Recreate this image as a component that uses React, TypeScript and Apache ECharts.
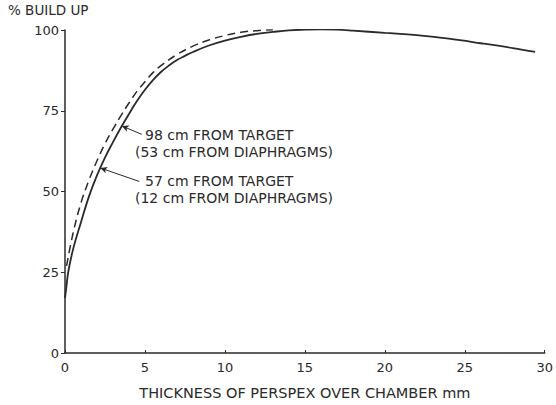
import React, { useEffect, useRef } from "react";
import * as echarts from "echarts";

// Thickness of perspex (mm) and % build up
const solidX = [0, 0.1, 0.2, 0.5, 1, 1.5, 2, 2.5, 3, 3.5, 4, 4.5, 5, 5.5, 6, 6.5, 7, 7.5, 8, 9, 10, 11, 12, 13, 14, 15, 16, 17, 18, 20, 22, 24, 26, 28, 29.4];
const solidY = [17, 21, 25, 32, 40.5, 48.5, 55, 60.5, 65.3, 69.8, 74, 78, 81.5, 84.5, 87, 89, 90.7, 92, 93.2, 95.2, 96.7, 97.9, 98.8, 99.4, 99.9, 100.1, 100.2, 100.1, 99.8, 99.1, 98.4, 97.3, 95.9, 94.4, 93.2];

const dashX = [0.1, 0.5, 1, 1.5, 2, 2.5, 3, 3.5, 4, 4.5, 5, 5.5, 6, 7, 8, 9, 10, 11, 12, 13];
const dashY = [27, 37, 46.5, 53.5, 59.5, 64.8, 69.3, 73.5, 77.4, 81, 84, 86.8, 89, 92.4, 95, 96.9, 98.3, 99.3, 99.8, 100.1];

const xTicks = [0, 5, 10, 15, 20, 25, 30];
const yTicks = [0, 25, 50, 75, 100];

const label98 = ["98 cm FROM TARGET", "(53 cm FROM DIAPHRAGMS)"];
const label57 = ["57 cm FROM TARGET", "(12 cm FROM DIAPHRAGMS)"];
// arrow from label to curve, in data units [from, to]
const arrow98 = [[4.8, 67.7], [3.55, 70.3]];
const arrow57 = [[4.65, 53.1], [2.2, 57.3]];

const yTitle = "% BUILD UP";
const xTitle = "THICKNESS OF PERSPEX OVER CHAMBER mm";

const FONT = "DejaVu Sans";
const INK = "#2a2a2a";

export default function App() {
  const ref = useRef<HTMLDivElement>(null);
  useEffect(() => {
    if (!ref.current) return;
    const chart = echarts.init(ref.current, undefined, { renderer: "svg" });
    const arrowLine = (a: number[][]) => ({
      type: "line",
      data: [],
      silent: true,
      markLine: {
        silent: true,
        symbol: ["none", "arrow"],
        symbolSize: [5, 7],
        label: { show: false },
        lineStyle: { color: INK, width: 1, type: "solid" },
        data: [[{ coord: a[0] }, { coord: a[1] }]],
      },
    });
    chart.setOption({
      animation: false,
      backgroundColor: "#ffffff",
      grid: { left: 65, right: 8, top: 30, bottom: 52 },
      xAxis: {
        type: "value",
        min: 0,
        max: 30,
        interval: 5,
        name: xTitle,
        nameLocation: "middle",
        nameGap: 32,
        nameTextStyle: { fontFamily: FONT, fontSize: 14.5, color: INK },
        axisLine: { lineStyle: { color: INK, width: 1.5 } },
        axisTick: { show: true, inside: true, length: 3, lineStyle: { color: INK } },
        axisLabel: {
          fontFamily: FONT,
          fontSize: 13,
          color: INK,
          margin: 8,
          customValues: xTicks,
        },
        splitLine: { show: false },
      },
      yAxis: {
        type: "value",
        min: 0,
        max: 100,
        interval: 25,
        axisLine: { show: true, lineStyle: { color: INK, width: 1.5 } },
        axisTick: { show: true, length: 4, lineStyle: { color: INK } },
        axisLabel: { fontFamily: FONT, fontSize: 13, color: INK, margin: 6, customValues: yTicks },
        splitLine: { show: false },
      },
      series: [
        {
          type: "line",
          data: solidX.map((x, i) => [x, solidY[i]]),
          smooth: 0.4,
          showSymbol: false,
          lineStyle: { color: INK, width: 1.8 },
        },
        {
          type: "line",
          data: dashX.map((x, i) => [x, dashY[i]]),
          smooth: 0.4,
          showSymbol: false,
          lineStyle: { color: INK, width: 1.5, type: [8, 5] },
        },
        arrowLine(arrow98),
        arrowLine(arrow57),
      ],
      graphic: [
        { type: "text", left: 8, top: 3, style: { text: yTitle, fontFamily: FONT, fontSize: 13.5, fill: INK } },
        { type: "text", left: 145, top: 128, style: { text: label98[0], fontFamily: FONT, fontSize: 14, fill: INK } },
        { type: "text", left: 135, top: 145, style: { text: label98[1], fontFamily: FONT, fontSize: 14, fill: INK } },
        { type: "text", left: 145, top: 174, style: { text: label57[0], fontFamily: FONT, fontSize: 14, fill: INK } },
        { type: "text", left: 135, top: 191, style: { text: label57[1], fontFamily: FONT, fontSize: 14, fill: INK } },
      ],
    });
    return () => chart.dispose();
  }, []);
  return <div ref={ref} style={{ position: "absolute", left: 0, top: 0, width: 556, height: 405 }} />;
}
